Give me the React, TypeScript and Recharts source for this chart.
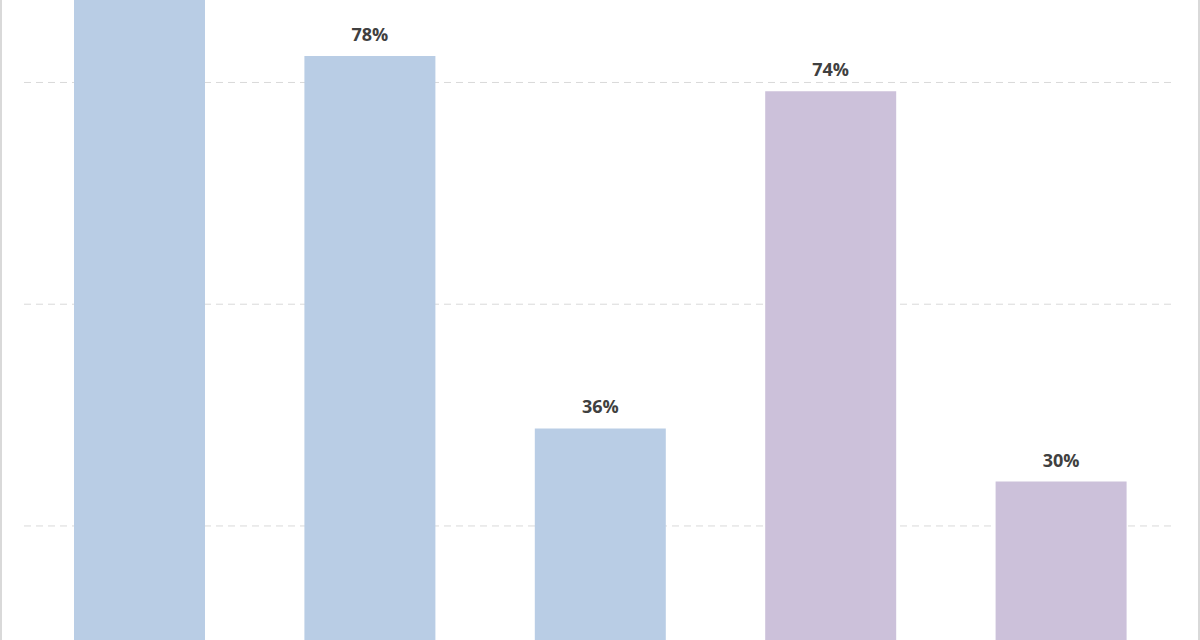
import React from 'react';
import { BarChart, Bar, XAxis, YAxis, CartesianGrid, Cell, LabelList } from 'recharts';

// values; the first bar runs past the top edge
const categories = ['A', 'B', 'C', 'D', 'E'];
const values = [88, 78, 36, 74, 30];
const groups = ['blue', 'blue', 'blue', 'purple', 'purple'];
const gridTicks = [25, 50, 75];
const yDomain: [number, number] = [12.14, 84.3];

const colors: Record<string, string> = {
  blue: '#B9CDE5',
  purple: '#CCC1DA',
};

const data = categories.map((name, i) => ({ name, value: values[i], group: groups[i] }));

export default function App() {
  return (
    <div
      style={{
        position: 'absolute',
        left: 0,
        top: 0,
        width: 1200,
        height: 640,
        overflow: 'hidden',
        background: '#FFFFFF',
      }}
    >
      <BarChart
        width={1200}
        height={640}
        data={data}
        margin={{ top: 0, right: 24, bottom: 0, left: 24 }}
      >
        <CartesianGrid
          vertical={false}
          horizontalValues={gridTicks}
          stroke="#D9D9D9"
          strokeDasharray="7 5"
        />
        <XAxis dataKey="name" hide />
        <YAxis hide type="number" domain={yDomain} ticks={gridTicks} allowDataOverflow />
        <Bar dataKey="value" barSize={131} isAnimationActive={false}>
          {data.map((d) => (
            <Cell key={d.name} fill={colors[d.group]} />
          ))}
          <LabelList
            dataKey="value"
            position="top"
            offset={15}
            // the label of the bar that runs off the top is outside the picture
            formatter={(v: any) => (v > yDomain[1] ? '' : `${v}%`)}
            fill="#404040"
            style={{ fontFamily: '"Open Sans", sans-serif', fontSize: 18, fontWeight: 700 }}
          />
        </Bar>
      </BarChart>
      <div style={{ position: 'absolute', left: 0, top: 0, width: 2, height: 640, background: '#D9D9D9' }} />
      <div style={{ position: 'absolute', right: 0, top: 0, width: 2, height: 640, background: '#D9D9D9' }} />
    </div>
  );
}
